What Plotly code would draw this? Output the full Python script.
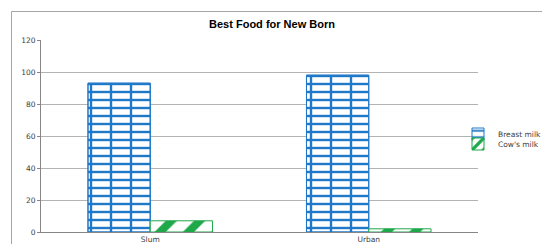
import plotly.graph_objects as go

categories = ["Slum", "Urban"]
breast_milk = [93, 98]
cows_milk = [7, 2]
y_ticks = [0, 20, 40, 60, 80, 100, 120]

BLUE = "#1f78c8"
GREEN = "#1fa84a"
FONT = "Liberation Sans, Arial, sans-serif"
SMALL = "DejaVu Sans, Verdana, sans-serif"

fig = go.Figure()

fig.add_trace(go.Bar(
    x=categories, y=breast_milk, name="Breast milk",
    offsetgroup="a", legend="legend",
    marker=dict(color="white", line=dict(color=BLUE, width=1),
                pattern=dict(shape="-", fgcolor=BLUE, bgcolor="white",
                             size=8, solidity=0.3, fillmode="replace")),
))
fig.add_trace(go.Bar(
    x=categories, y=breast_milk, name="Breast milk",
    offsetgroup="a", showlegend=False, hoverinfo="skip",
    marker=dict(color="rgba(0,0,0,0)", line=dict(color=BLUE, width=1),
                pattern=dict(shape="|", fgcolor=BLUE, bgcolor="rgba(0,0,0,0)",
                             size=20, solidity=0.12, fillmode="replace")),
))
fig.add_trace(go.Bar(
    x=categories, y=cows_milk, name="Cow's milk",
    offsetgroup="b", legend="legend2",
    marker=dict(color="white", line=dict(color=GREEN, width=1),
                pattern=dict(shape="/", fgcolor=GREEN, bgcolor="white",
                             size=20, solidity=0.4, fillmode="replace")),
))

W, H = 542, 244
L, R, T, B = 41, 64, 40, 12
pw, ph = W - L - R, H - T - B

fig.update_layout(
    width=W, height=H,
    margin=dict(l=L, r=R, t=T, b=B, autoexpand=False),
    paper_bgcolor="white", plot_bgcolor="white",
    barmode="group", bargap=0.43, bargroupgap=0,
    font=dict(family=SMALL, size=7, color="#404040"),
    title=dict(text="<b>Best Food for New Born</b>", x=272 / W, xanchor="center",
               xref="container", y=1 - 24 / H, yanchor="middle", yref="container",
               font=dict(family=FONT, size=11, color="#000000")),
    legend=dict(x=(458 - L) / pw, y=(232 - 134) / ph, xanchor="left", yanchor="middle",
                font=dict(family=SMALL, size=7.5, color="#404040"), bgcolor="rgba(0,0,0,0)"),
    legend2=dict(x=(458 - L) / pw, y=(232 - 144) / ph, xanchor="left", yanchor="middle",
                 font=dict(family=SMALL, size=7.5, color="#404040"), bgcolor="rgba(0,0,0,0)"),
    showlegend=True,
    xaxis=dict(showline=True, linecolor="#868686", linewidth=1,
               ticks="", showgrid=False, automargin=False,
               tickfont=dict(family=SMALL, size=7.5, color="#404040")),
    yaxis=dict(range=[0, 120], tickvals=y_ticks, showline=True, linecolor="#868686",
               linewidth=1, ticks="outside", ticklen=3, tickcolor="#868686",
               showgrid=True, gridcolor="#b3b3b3", gridwidth=1, zeroline=False,
               automargin=False, tickfont=dict(family=SMALL, size=7.5, color="#404040")),
    shapes=[dict(type="rect", xref="paper", yref="paper",
                 x0=(11.5 - L) / pw, x1=(560 - L) / pw,
                 y0=(232 - 260) / ph, y1=(232 - 11.5) / ph,
                 line=dict(color="#a6a6a6", width=1), layer="below")],
)

fig.write_html("out.html", config={"displayModeBar": False},
               post_script="document.body.style.margin='0';document.body.style.overflow='hidden';")
